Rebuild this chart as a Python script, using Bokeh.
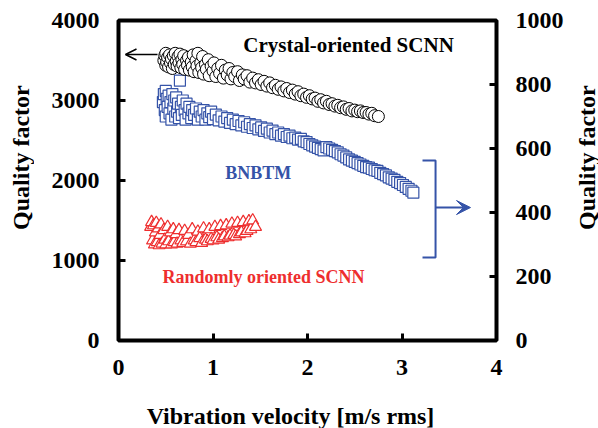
from bokeh.plotting import figure
from bokeh.models import (Range1d, LinearAxis, Label, Arrow, OpenHead, VeeHead,
                          FixedTicker)
from bokeh.layouts import row, column
from bokeh.embed import file_html
from bokeh.resources import INLINE

# ---------------- data ----------------
crystal_x = [0.48, 0.49, 0.50, 0.50, 0.51, 0.52, 0.53, 0.54, 0.55, 0.56,
             0.57, 0.58, 0.59, 0.60, 0.61, 0.62, 0.63, 0.64, 0.65, 0.66,
             0.67, 0.68, 0.69, 0.70, 0.72, 0.73, 0.74, 0.75, 0.77, 0.78,
             0.79, 0.80, 0.82, 0.83, 0.84, 0.85, 0.87, 0.88, 0.89, 0.90,
             0.92, 0.93, 0.95, 0.96, 0.98, 1.00, 1.01, 1.03, 1.05, 1.07,
             1.09, 1.11, 1.13, 1.15, 1.17, 1.19, 1.21, 1.23, 1.26, 1.28,
             1.31, 1.33, 1.36, 1.39, 1.42, 1.45, 1.48, 1.51, 1.54, 1.57,
             1.60, 1.63, 1.66, 1.69, 1.72, 1.75, 1.78, 1.81, 1.84, 1.87,
             1.90, 1.93, 1.96, 1.99, 2.02, 2.05, 2.08, 2.11, 2.14, 2.17,
             2.20, 2.23, 2.26, 2.29, 2.32, 2.35, 2.38, 2.41, 2.44, 2.47,
             2.50, 2.53, 2.56, 2.59, 2.62, 2.65, 2.68, 2.71, 2.75]
crystal_q = [3500, 3560, 3440, 3590, 3480, 3540, 3420, 3570, 3470, 3520,
             3400, 3560, 3450, 3590, 3490, 3430, 3550, 3470, 3580, 3410,
             3510, 3450, 3560, 3390, 3500, 3440, 3540, 3380, 3480, 3420,
             3570, 3360, 3500, 3430, 3590, 3350, 3470, 3410, 3550, 3330,
             3450, 3390, 3510, 3310, 3430, 3370, 3470, 3300, 3400, 3340,
             3440, 3280, 3380, 3320, 3400, 3270, 3350, 3300, 3360, 3250,
             3320, 3270, 3310, 3230, 3280, 3220, 3260, 3200, 3240, 3180,
             3220, 3160, 3190, 3140, 3170, 3120, 3150, 3100, 3130, 3080,
             3110, 3060, 3080, 3040, 3060, 3020, 3030, 2990, 3010, 2970,
             2990, 2950, 2960, 2930, 2940, 2910, 2920, 2890, 2900, 2870,
             2880, 2860, 2870, 2850, 2850, 2830, 2840, 2810, 2800]

bnbtm_x = [0.47, 0.48, 0.49, 0.50, 0.50, 0.51, 0.52, 0.53, 0.54, 0.55,
           0.56, 0.57, 0.58, 0.59, 0.60, 0.61, 0.62, 0.63, 0.64, 0.65,
           0.66, 0.67, 0.68, 0.70, 0.71, 0.72, 0.74, 0.75, 0.77, 0.78,
           0.80, 0.82, 0.84, 0.86, 0.88, 0.90, 0.92, 0.94, 0.96, 0.98,
           1.00, 1.03, 1.06, 1.09, 1.12, 1.15, 1.18, 1.21, 1.24, 1.27,
           1.30, 1.33, 1.36, 1.39, 1.42, 1.45, 1.48, 1.51, 1.54, 1.57,
           1.60, 1.63, 1.66, 1.69, 1.72, 1.75, 1.78, 1.81, 1.84, 1.87,
           1.90, 1.93, 1.96, 1.99, 2.02, 2.05, 2.08, 2.11, 2.14, 2.17,
           2.20, 2.23, 2.26, 2.29, 2.32, 2.35, 2.38, 2.41, 2.44, 2.47,
           2.50, 2.53, 2.56, 2.59, 2.62, 2.65, 2.68, 2.71, 2.74, 2.77,
           2.80, 2.83, 2.86, 2.89, 2.92, 2.95, 2.98, 3.01, 3.04, 3.07,
           3.10, 3.12]
bnbtm_q = [745, 770, 720, 780, 700, 755, 730, 765, 710, 745,
           690, 770, 725, 750, 700, 760, 715, 740, 695, 812,
           730, 705, 750, 720, 690, 740, 710, 730, 695, 720,
           705, 725, 690, 715, 700, 720, 690, 710, 698, 715,
           692, 706, 688, 700, 684, 695, 680, 690, 676, 686,
           672, 682, 668, 676, 664, 672, 660, 666, 655, 662,
           650, 656, 645, 650, 640, 645, 636, 640, 632, 634,
           628, 630, 622, 620, 614, 610, 606, 602, 598, 594,
           604, 600, 596, 592, 588, 582, 578, 572, 566, 562,
           558, 554, 550, 546, 542, 540, 536, 532, 530, 524,
           520, 516, 510, 506, 502, 496, 492, 486, 480, 474,
           468, 462]

random_x = [0.34, 0.35, 0.36, 0.37, 0.38, 0.39, 0.40, 0.41, 0.42, 0.43,
            0.44, 0.45, 0.46, 0.48, 0.49, 0.50, 0.52, 0.53, 0.55, 0.56,
            0.58, 0.59, 0.61, 0.62, 0.64, 0.66, 0.68, 0.70, 0.72, 0.74,
            0.76, 0.78, 0.80, 0.82, 0.84, 0.86, 0.88, 0.90, 0.92, 0.94,
            0.96, 0.98, 1.00, 1.02, 1.04, 1.06, 1.08, 1.10, 1.12, 1.14,
            1.16, 1.18, 1.20, 1.22, 1.24, 1.26, 1.28, 1.30, 1.32, 1.34,
            1.36, 1.38, 1.40, 1.42, 1.45]
random_q = [1420, 1480, 1250, 1440, 1200, 1350, 1470, 1230, 1400, 1190,
            1320, 1450, 1210, 1380, 1260, 1200, 1420, 1240, 1350, 1200,
            1390, 1230, 1330, 1210, 1380, 1250, 1220, 1370, 1240, 1320,
            1210, 1390, 1250, 1230, 1360, 1280, 1220, 1400, 1260, 1240,
            1390, 1270, 1250, 1420, 1290, 1260, 1430, 1280, 1300, 1440,
            1290, 1310, 1460, 1320, 1300, 1470, 1330, 1350, 1480, 1340,
            1370, 1490, 1390, 1500, 1420]

x_ticks = [0, 1, 2, 3, 4]
left_ticks = [0, 1000, 2000, 3000, 4000]
right_ticks = [0, 200, 400, 600, 800, 1000]

BLACK = "#000000"
BLUE = "#3553A8"
RED = "#EE2E2E"
FONT = "Liberation Serif"

# ---------------- main plot ----------------
p = figure(width=540, height=392, x_range=Range1d(0, 4), y_range=Range1d(0, 4000),
           output_backend="svg", toolbar_location=None,
           min_border_left=84, min_border_right=78, min_border_top=20,
           min_border_bottom=52)
p.extra_y_ranges = {"right": Range1d(0, 1000)}
p.grid.visible = False
p.outline_line_color = BLACK
p.outline_line_width = 4
p.background_fill_color = "white"
p.border_fill_color = "white"

def style_axis(ax, standoff):
    ax.axis_line_color = None
    ax.major_tick_in = 7
    ax.major_tick_out = 0
    ax.major_tick_line_width = 3
    ax.major_tick_line_color = BLACK
    ax.minor_tick_line_color = None
    ax.major_label_text_font = FONT
    ax.major_label_text_font_style = "bold"
    ax.major_label_text_font_size = "24px"
    ax.major_label_text_color = BLACK
    ax.major_label_standoff = standoff

xa = p.xaxis[0]
style_axis(xa, 19)
xa.ticker = FixedTicker(ticks=x_ticks)

ya = p.yaxis[0]
style_axis(ya, 19)
ya.ticker = FixedTicker(ticks=left_ticks)

ra = LinearAxis(y_range_name="right")
style_axis(ra, 19)
ra.ticker = FixedTicker(ticks=right_ticks)
p.add_layout(ra, "right")

p.scatter(random_x, random_q, marker="triangle", size=12, line_color=RED,
          fill_color="white", line_width=1.2)
p.scatter(bnbtm_x, bnbtm_q, marker="square", size=11, line_color=BLUE,
          fill_color="white", line_width=1.2, y_range_name="right")
p.scatter(crystal_x, crystal_q, marker="circle", size=12, line_color=BLACK,
          fill_color="white", line_width=1.0)

p.add_layout(Label(x=1.32, y=3690, text="Crystal-oriented SCNN", text_font=FONT,
                   text_font_style="bold", text_font_size="21px", text_color=BLACK,
                   text_align="left", text_baseline="middle"))
p.add_layout(Label(x=1.13, y=2090, text="BNBTM", text_font=FONT,
                   text_font_style="bold", text_font_size="18px", text_color=BLUE,
                   text_align="left", text_baseline="middle"))
p.add_layout(Label(x=0.466, y=800, text="Randomly oriented SCNN", text_font=FONT,
                   text_font_style="bold", text_font_size="18px", text_color=RED,
                   text_align="left", text_baseline="middle"))

p.add_layout(Arrow(end=OpenHead(size=11, line_width=1.5, line_color=BLACK),
                   x_start=0.413, y_start=3575, x_end=0.074, y_end=3575,
                   line_width=1.5, line_color=BLACK))
p.line([3.217, 3.355, 3.355, 3.217], [2250, 2250, 1037.5, 1037.5],
       line_color=BLUE, line_width=2)
p.add_layout(Arrow(end=VeeHead(size=14, line_color=BLUE, fill_color=BLUE),
                   x_start=3.355, y_start=1662, x_end=3.725, y_end=1662,
                   line_width=2, line_color=BLUE))

# ---------------- title panels (axis titles) ----------------
def panel(w, h):
    f = figure(width=w, height=h, x_range=Range1d(0, w), y_range=Range1d(0, h),
               output_backend="svg", toolbar_location=None,
               x_axis_type=None, y_axis_type=None, min_border=0)
    f.grid.visible = False
    f.outline_line_color = None
    f.background_fill_color = "white"
    f.border_fill_color = "white"
    return f

pL = panel(34, 392)
pL.add_layout(Label(x=20, y=392 - 168, angle=90, angle_units="deg",
                    text="Quality factor", text_font=FONT, text_font_style="bold",
                    text_font_size="24px", text_color=BLACK,
                    text_align="center", text_baseline="middle"))

pR = panel(24, 392)
pR.add_layout(Label(x=12, y=392 - 168, angle=90, angle_units="deg",
                    text="Quality factor", text_font=FONT, text_font_style="bold",
                    text_font_size="24px", text_color=BLACK,
                    text_align="center", text_baseline="middle"))

pB = panel(598, 36)
pB.add_layout(Label(x=290, y=36 - (415 - 392), text="Vibration velocity [m/s rms]",
                    text_font=FONT, text_font_style="bold", text_font_size="24px",
                    text_color=BLACK, text_align="center", text_baseline="middle"))

layout = column(row(pL, p, pR, spacing=0), pB, spacing=0)

open("out.html", "w").write(file_html(layout, INLINE))
